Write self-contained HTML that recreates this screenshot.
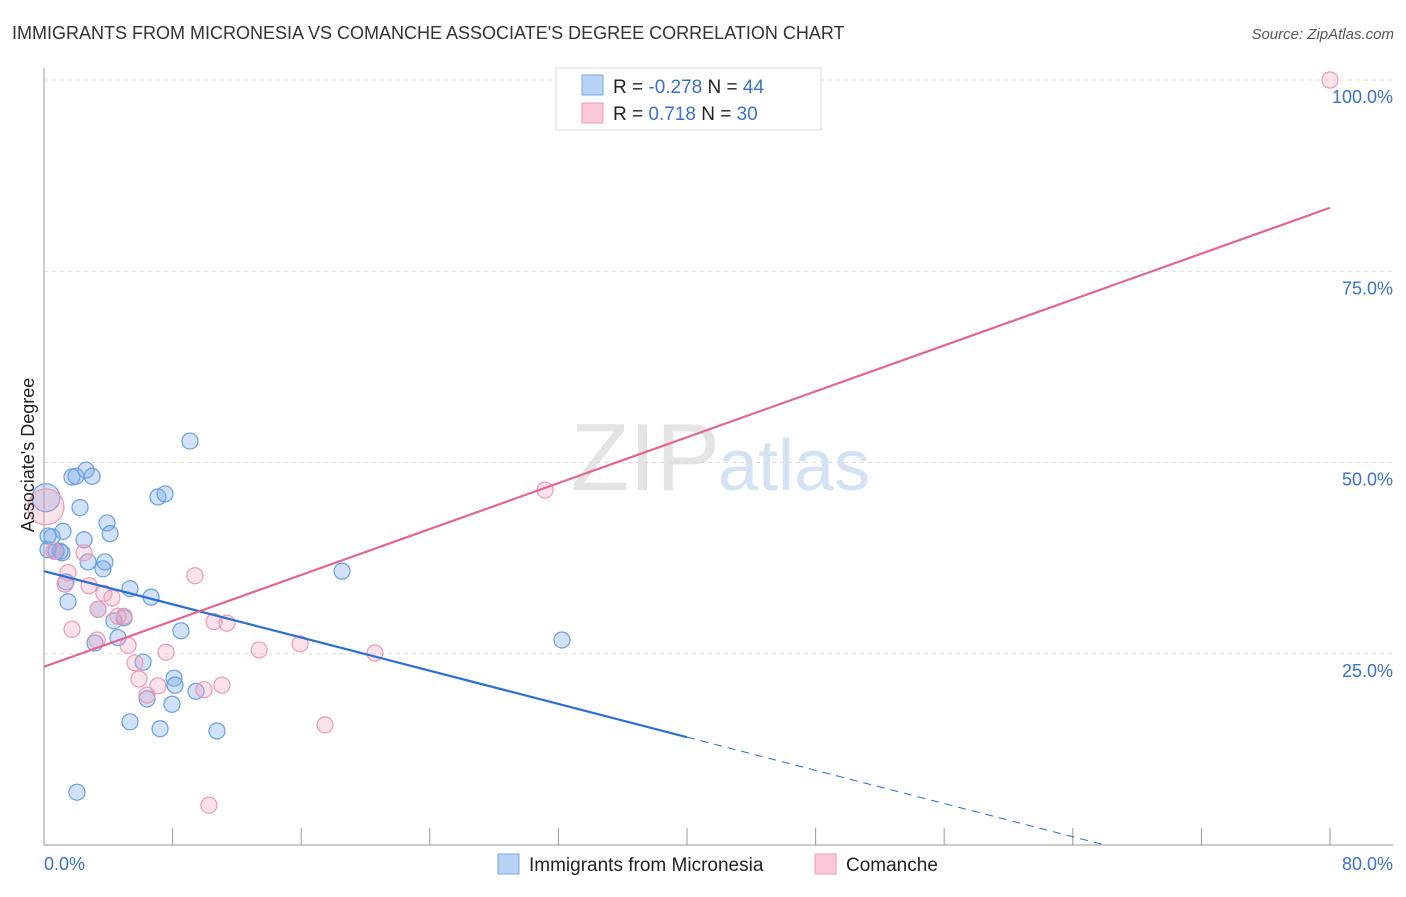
<!DOCTYPE html>
<html><head><meta charset="utf-8"><style>
body{margin:0;background:#fff;font-family:"Liberation Sans",sans-serif;}
svg text{font-family:"Liberation Sans",sans-serif;}
</style></head><body>
<svg width="1406" height="892" viewBox="0 0 1406 892" id="c">
<text x="12" y="39" font-size="18" fill="#333">IMMIGRANTS FROM MICRONESIA VS COMANCHE ASSOCIATE'S DEGREE CORRELATION CHART</text>
<text x="1394" y="39" font-size="15" fill="#555" font-style="italic" text-anchor="end">Source: ZipAtlas.com</text>
<text x="720" y="490" font-size="96" fill="#e4e4e4" text-anchor="end" font-family="Liberation Serif">ZIP</text>
<text x="718" y="490" font-size="72" fill="#d5e2f3">atlas</text>
<g id="grid"></g>
<g id="axes"></g>
<g id="marks"></g>
<text x="34" y="455" font-size="18" fill="#222" text-anchor="middle" transform="rotate(-90 34 455)">Associate's Degree</text>
<text x="44" y="870" font-size="18" fill="#3a72c8">0.0%</text>
<text x="1393" y="870" font-size="18" fill="#3a72c8" text-anchor="end">80.0%</text>
<g>
<rect x="556" y="68" width="265" height="62" fill="#fff" stroke="#ddd"/>
<rect x="582" y="75" width="21" height="20" fill="#b8d3f5" stroke="#7aa6e0"/>
<rect x="582" y="103" width="21" height="20" fill="#fac8d6" stroke="#eb9ab3"/>
<text x="613" y="93" font-size="19" fill="#222">R = <tspan fill="#3a72c8">-0.278</tspan>   N = <tspan fill="#3a72c8">44</tspan></text>
<text x="613" y="120" font-size="19" fill="#222">R =   <tspan fill="#3a72c8">0.718</tspan>   N = <tspan fill="#3a72c8">30</tspan></text>
</g>
<g>
<rect x="498" y="854" width="21" height="20" fill="#b8d3f5" stroke="#7aa6e0"/>
<text x="529" y="871" font-size="19" fill="#222">Immigrants from Micronesia</text>
<rect x="815" y="854" width="21" height="20" fill="#fac8d6" stroke="#eb9ab3"/>
<text x="846" y="871" font-size="19" fill="#222">Comanche</text>
</g>
</svg>
<script>
const yTicks=[25,50,75,100];
const yTickLabels=["25.0%","50.0%","75.0%","100.0%"];
const xTicks=[8,16,24,32,40,48,56,64,72,80];
const blueX=[0.12,0.25,0.5,0.75,1.0,1.18,1.37,1.49,1.74,1.99,2.24,2.49,2.61,2.74,2.99,3.17,3.36,3.67,3.79,3.92,4.11,4.35,4.6,4.98,5.35,5.35,6.16,6.41,6.66,7.09,7.53,7.22,7.96,8.09,8.15,8.52,9.08,9.46,10.76,18.54,32.22,2.05,0.25,1.12];
const blueY=[45.4,40.4,40.3,38.4,38.4,41.0,34.4,31.8,48.1,48.2,44.1,39.9,49.0,37.0,48.2,26.4,30.8,36.1,37.0,42.1,40.7,29.3,27.1,29.7,16.1,33.5,23.9,19.1,32.4,45.5,45.9,15.2,18.4,21.8,20.9,28.0,52.8,20.1,14.9,35.8,26.8,6.9,38.6,38.2];
const pinkX=[0.12,0.62,1.31,1.49,1.74,2.49,2.8,3.3,3.36,3.73,4.23,4.6,4.98,5.23,5.66,5.91,6.41,7.09,7.59,9.39,9.95,10.58,11.07,11.38,10.26,13.38,15.93,17.48,20.59,31.17,80];
const pinkY=[44.2,38.4,34.1,35.6,28.2,38.2,33.9,26.8,30.8,32.9,32.3,29.9,29.9,26.1,23.8,21.7,19.6,20.8,25.2,35.2,20.3,29.2,20.9,29.0,5.2,25.5,26.3,15.7,25.1,46.4,100];
const blueTrend=[35.8,-0.5425];
const pinkTrend=[23.3,0.75];
const X=v=>44+v/80*1286, Y=v=>845-v/100*765;
const NS="http://www.w3.org/2000/svg";
function mk(tag,attrs,parent){const e=document.createElementNS(NS,tag);for(const k in attrs)e.setAttribute(k,attrs[k]);document.getElementById(parent).appendChild(e);return e;}
yTicks.forEach((t,i)=>{
 const l=mk('line',{x1:44,x2:1393,y1:Y(t),y2:Y(t),stroke:'#ddd','stroke-dasharray':'4,4'},'grid');
 
 
 const tx=mk('text',{x:1393,y:Y(t)+23,'font-size':18,fill:'#3a72c8','text-anchor':'end'},'grid');
 tx.textContent=yTickLabels[i];
 
 
});
let a=mk('line',{x1:44,x2:44,y1:68,y2:845,stroke:'#999'},'axes');


a=mk('line',{x1:44,x2:1393,y1:845,y2:845,stroke:'#999'},'axes');


xTicks.forEach(t=>{const l=mk('line',{x1:X(t),x2:X(t),y1:828,y2:845,stroke:'#999'},'axes');
 
 });
blueX.forEach((x,i)=>{const c=mk('circle',{cx:X(x),cy:Y(blueY[i]),r:i==0?14:8,fill:'rgba(120,170,235,0.35)',stroke:'#6a9fe0','stroke-width':1.2},'marks');
 
 });
pinkX.forEach((x,i)=>{const c=mk('circle',{cx:X(x),cy:Y(pinkY[i]),r:i==0?18:8,fill:'rgba(245,160,185,0.3)',stroke:'#ee99b3','stroke-width':1.2},'marks');
 
 });
let t=mk('line',{x1:X(0),y1:Y(blueTrend[0]),x2:X(40),y2:Y(blueTrend[0]+blueTrend[1]*40),stroke:'#2a6fd6','stroke-width':2.2},'marks');


const x0=-blueTrend[0]/blueTrend[1];
t=mk('line',{x1:X(40),y1:Y(blueTrend[0]+blueTrend[1]*40),x2:X(x0),y2:Y(0),stroke:'#2a6fd6','stroke-width':1,'stroke-dasharray':'8,6'},'marks');


t=mk('line',{x1:X(0),y1:Y(pinkTrend[0]),x2:X(80),y2:Y(pinkTrend[0]+pinkTrend[1]*80),stroke:'#e36690','stroke-width':2.2},'marks');


</script>
</body></html>
